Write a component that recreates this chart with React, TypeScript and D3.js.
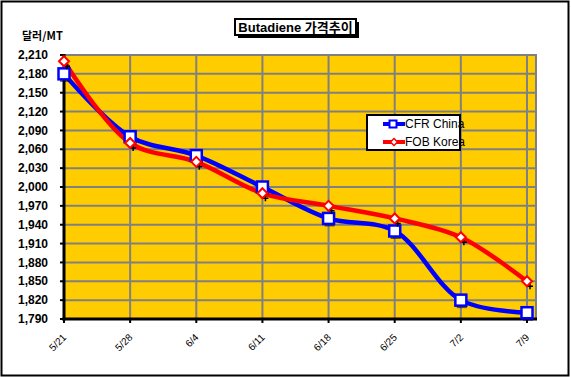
import React from "react";
import * as d3 from "d3";

const categories = ["5/21", "5/28", "6/4", "6/11", "6/18", "6/25", "7/2", "7/9"];
const cfrChina = [2180, 2080, 2050, 2000, 1950, 1930, 1820, 1800];
const fobKorea = [2200, 2070, 2040, 1990, 1970, 1950, 1920, 1850];
const yTicks = [1790, 1820, 1850, 1880, 1910, 1940, 1970, 2000, 2030, 2060, 2090, 2120, 2150, 2180, 2210];

const W = 571, H = 377;
const plotL = 64, plotR = 536, plotT = 55, plotB = 319;

export default function App() {
  const x = d3.scalePoint<string>().domain(categories).range([plotL, 527]);
  const y = d3.scaleLinear().domain([1790, 2210]).range([plotB, plotT]);
  const fmt = d3.format(",");
  const line = d3
    .line<number>()
    .x((_, i) => x(categories[i]) as number)
    .y((d) => y(d))
    .curve(d3.curveCatmullRom.alpha(0.5));

  return (
    <svg width={W} height={H} style={{ position: "absolute", left: 0, top: 0, fontFamily: "Arial, 'Liberation Sans', sans-serif" }}>
      <rect x={0} y={0} width={W} height={H} fill="#fff" />
      <rect x={1.5} y={1.5} width={567} height={374} fill="#fff" stroke="#000" strokeWidth={2} />
      {/* plot area */}
      <rect x={plotL} y={plotT} width={plotR - plotL} height={plotB - plotT} fill="#FFCC00" stroke="#808080" strokeWidth={2} />
      {yTicks.map((t) => (
        <line key={"g" + t} x1={plotL} x2={plotR} y1={y(t)} y2={y(t)} stroke="#808080" strokeWidth={2} />
      ))}
      {categories.slice(1).map((c) => (
        <line key={"v" + c} x1={x(c)} x2={x(c)} y1={plotT} y2={plotB} stroke="#808080" strokeWidth={2} />
      ))}
      {/* axes */}
      <line x1={plotL} x2={plotL} y1={plotT - 1} y2={plotB + 1.5} stroke="#000" strokeWidth={3} />
      <line x1={plotL - 1.5} x2={plotR + 1} y1={plotB} y2={plotB} stroke="#000" strokeWidth={3} />
      {yTicks.map((t) => (
        <line key={"t" + t} x1={plotL - 4} x2={plotL} y1={y(t)} y2={y(t)} stroke="#000" strokeWidth={2} />
      ))}
      {categories.map((c) => (
        <line key={"xt" + c} x1={x(c)} x2={x(c)} y1={plotB} y2={plotB + 4} stroke="#000" strokeWidth={2} />
      ))}
      {/* y labels */}
      {yTicks.map((t) => (
        <text key={"yl" + t} x={48} y={y(t)} dy="0.35em" textAnchor="end" fontSize={12} fontWeight="bold" fill="#000">
          {fmt(t)}
        </text>
      ))}
      <text x={22} y={40} fontSize={11} fontWeight="bold" fontFamily="'Noto Sans CJK KR', Arial, sans-serif">달러/MT</text>
      {/* x labels */}
      {categories.map((c) => {
        const px = (x(c) as number) + 3;
        const py = 338;
        return (
          <text key={"xl" + c} x={px} y={py} textAnchor="end" fontSize={10} transform={`rotate(-45 ${px} ${py})`} fill="#000">
            {c}
          </text>
        );
      })}
      {/* series lines */}
      <path d={line(cfrChina) || ""} fill="none" stroke="#0000FF" strokeWidth={4.5} />
      <path d={line(fobKorea) || ""} fill="none" stroke="#FF0000" strokeWidth={4.5} />
      {/* markers */}
      {cfrChina.map((v, i) => {
        const cx = x(categories[i]) as number;
        const cy = y(v);
        return (
          <g key={"m1" + i}>
            <rect x={cx - 4} y={cy - 1} width={10} height={9} fill="#000" opacity={0.6} />
            <rect x={cx - 5.5} y={cy - 5.5} width={11} height={11} fill="#fff" stroke="#0000FF" strokeWidth={2.5} />
          </g>
        );
      })}
      {fobKorea.map((v, i) => {
        const cx = x(categories[i]) as number;
        const cy = y(v);
        return (
          <g key={"m2" + i}>
            <path d={`M${cx + 3},${cy + 2} l0,6 M${cx},${cy + 5} l6,0`} stroke="#000" strokeWidth={1.5} />
            <path d={`M${cx},${cy - 5} L${cx + 5},${cy} L${cx},${cy + 5} L${cx - 5},${cy} Z`} fill="#fff" stroke="#FF0000" strokeWidth={2} />
          </g>
        );
      })}
      {/* legend */}
      <rect x={367} y={115} width={93} height={35} fill="#fff" stroke="#000" strokeWidth={2} />
      <line x1={383} x2={405} y1={124} y2={124} stroke="#0000FF" strokeWidth={4} />
      <rect x={389.5} y={120.5} width={7} height={7} fill="#fff" stroke="#0000FF" strokeWidth={2} />
      <text x={405} y={124} dy="0.35em" fontSize={12}>CFR China</text>
      <line x1={383} x2={405} y1={142} y2={142} stroke="#FF0000" strokeWidth={4} />
      <path d="M394,138.5 L397.5,142 L394,145.5 L390.5,142 Z" fill="#fff" stroke="#FF0000" strokeWidth={1.5} />
      <text x={405} y={142} dy="0.35em" fontSize={12}>FOB Korea</text>
      {/* title */}
      <rect x={238} y={22} width={121} height={16} fill="#000" />
      <rect x={235} y={19} width={121} height={16} fill="#fff" stroke="#000" strokeWidth={2} />
      <text x={295.5} y={27} dy="0.36em" textAnchor="middle" fontSize={13} fontWeight="bold">
        Butadiene <tspan fontFamily="'Noto Sans CJK KR', sans-serif" fontWeight="bold">가격추이</tspan>
      </text>
    </svg>
  );
}
